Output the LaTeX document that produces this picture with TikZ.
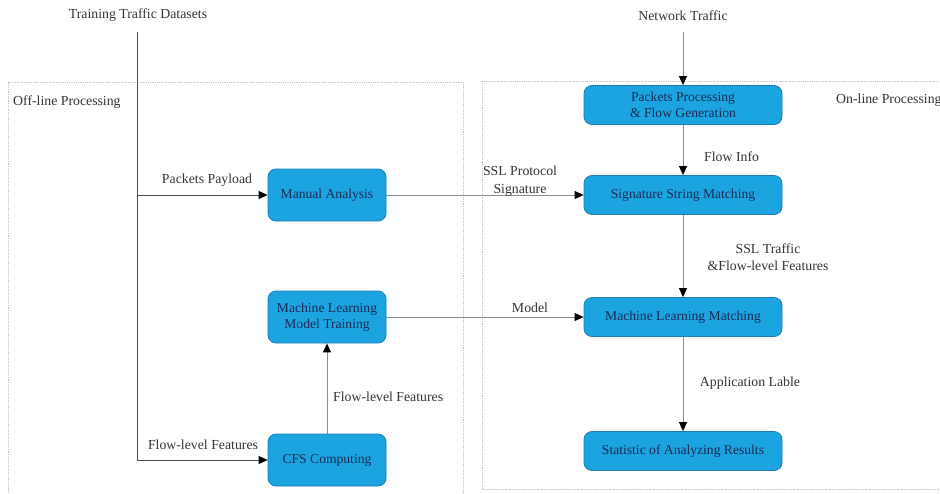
\documentclass[tikz,border=0pt]{standalone}
\usepackage{fontspec}
\setmainfont{Liberation Serif}
\usepackage{xcolor}
\definecolor{boxFill}{HTML}{1BA4E0}
\definecolor{boxEdge}{HTML}{1C7DB6}
\definecolor{boxText}{HTML}{1B2A55}
\definecolor{wireGray}{HTML}{8C8C8C}
\definecolor{frameGray}{HTML}{C4C4C4}
\definecolor{labelText}{HTML}{333333}
\usetikzlibrary{arrows.meta, positioning}

\begin{document}
\begin{tikzpicture}[x=1pt, y=-1pt,
    procbox/.style={fill=boxFill, draw=boxEdge, line width=0.8pt, rounded corners=8pt,
                    text=boxText, align=center, font=\fontsize{13.6}{16.5}\selectfont},
    offbox/.style={procbox, minimum width=118pt, minimum height=52pt},
    onbox/.style={procbox, minimum width=198pt, minimum height=39pt},
    lbl/.style={text=labelText, align=center, font=\fontsize{13.8}{17.5}\selectfont, inner sep=1pt},
    wire/.style={draw=wireGray, line width=0.9pt},
    feed/.style={wire, -{Triangle[length=9pt, width=8pt, black]}},
    frame/.style={draw=frameGray, densely dotted, line width=0.8pt}]
  \clip (0,0) rectangle (940,493);

  % processing frames
  \draw[frame] (8,500) -- (8,82) -- (463,82) -- (463,500);
  \draw[frame] (950,489) -- (482,489) -- (482,81) -- (950,81);
  \node[lbl, anchor=west] (offTitle) at (12,102) {Off-line Processing};
  \node[lbl, anchor=west] (onTitle) at (835,100) {On-line Processing};

  % off-line side
  \node[lbl] (trainData) at (138,15) {Training Traffic Datasets};
  \node[offbox] (manual) at (327,195) {Manual Analysis};
  \node[offbox] (mlTrain) at (327,317) {Machine Learning\\Model Training};
  \node[offbox] (cfs) at (327,460) {CFS Computing};
  \coordinate (tapTop) at (137,32);
  \coordinate (tapMid) at (137,195);
  \coordinate (tapLow) at (137,460);

  \draw[wire, draw=black!70] (tapTop) -- (tapLow);
  \draw[feed, draw=black!70] (tapMid) -- (manual.west);
  \draw[feed, draw=black!70] (tapLow) -- (cfs.west);
  \draw[feed] (cfs.north) -- (mlTrain.south);
  \node[lbl] (payloadLbl) at (207,180) {Packets Payload};
  \node[lbl] (cfsInLbl) at (203,445) {Flow-level Features};
  \node[lbl, anchor=west] (cfsOutLbl) at (332,397) {Flow-level Features};

  % on-line side
  \node[lbl] (netTraffic) at (683,16) {Network Traffic};
  \node[onbox] (packets) at (683,105) {Packets Processing\\\& Flow Generation};
  \node[onbox] (sigMatch) at (683,195) {Signature String Matching};
  \node[onbox] (mlMatch) at (683,317) {Machine Learning Matching};
  \node[onbox] (stats) at (683,451) {Statistic of Analyzing Results};
  \coordinate (netIn) at (683,32);

  \draw[feed] (netIn) -- (packets.north);
  \draw[feed] (packets.south) -- (sigMatch.north);
  \draw[feed] (sigMatch.south) -- (mlMatch.north);
  \draw[feed] (mlMatch.south) -- (stats.north);
  \node[lbl, anchor=west] (flowInfo) at (703,157) {Flow Info};
  \node[lbl] (sslLbl) at (768,257) {SSL Traffic\\\&Flow-level Features};
  \node[lbl] (appLbl) at (750,383) {Application Lable};

  % links across the frames
  \draw[feed] (manual.east) -- (sigMatch.west);
  \draw[feed] (mlTrain.east) -- (mlMatch.west);
  \node[lbl] (sigLbl) at (520,181) {SSL Protocol\\Signature};
  \node[lbl] (modelLbl) at (530,308) {Model};
\end{tikzpicture}
\end{document}
